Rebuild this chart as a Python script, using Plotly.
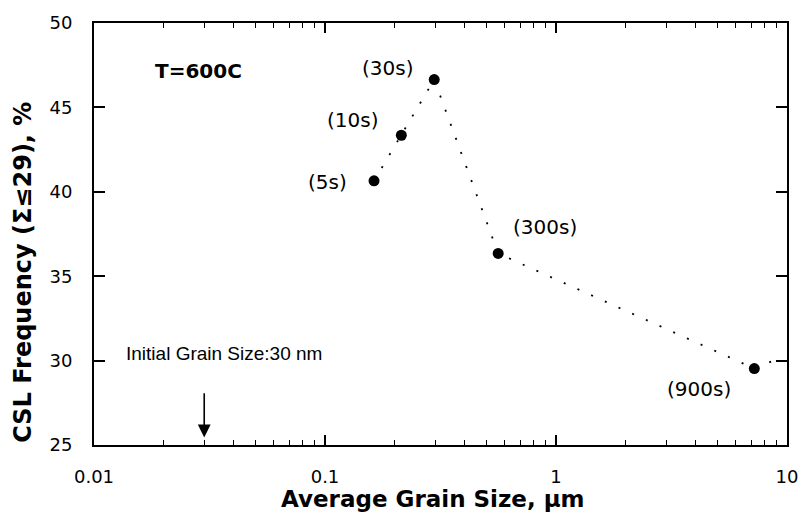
import math
import plotly.graph_objects as go

# Data
grain_size = [0.163, 0.214, 0.297, 0.562, 7.22]       # µm
csl_freq = [40.65, 43.35, 46.65, 36.35, 29.53]        # %
time_labels = ["(5s)", "(10s)", "(30s)", "(300s)", "(900s)"]

# dotted guide line continues slightly past the last point
curve_x = grain_size + [9.5]
curve_y = csl_freq + [30.2]

initial_size = 0.03  # µm
arrow_top, arrow_tip = 28.15, 25.45

# label offsets in pixels (right, down) from each point
label_dx = [-47, -49, -47, 47, -55]
label_dy = [1, -15, -12, -26, 20]

SANS = "DejaVu Sans, Verdana, sans-serif"
ARIAL = "Liberation Sans, Arial, Helvetica, sans-serif"

fig = go.Figure()
fig.add_trace(go.Scatter(
    x=curve_x, y=curve_y, mode="lines",
    line=dict(color="black", width=1.8, dash="2px,13px"),
    hoverinfo="skip", showlegend=False))
fig.add_trace(go.Scatter(
    x=grain_size, y=csl_freq, mode="markers",
    marker=dict(color="black", size=11),
    showlegend=False))

for x, y, t, dx, dy in zip(grain_size, csl_freq, time_labels, label_dx, label_dy):
    fig.add_annotation(x=math.log10(x), y=y, text=t, showarrow=False,
                       xanchor="center", yanchor="middle",
                       xshift=dx, yshift=-dy, font=dict(family=SANS, size=20, color="black"))

lx = math.log10(initial_size)
fig.add_annotation(x=lx, y=arrow_tip, ax=lx, ay=arrow_top,
                   xref="x", yref="y", axref="x", ayref="y", text="", showarrow=True,
                   arrowhead=2, arrowsize=1.6, arrowwidth=1.6, arrowcolor="black")
fig.add_annotation(xref="paper", yref="y", x=0.043, y=30.41, xanchor="left", yanchor="middle",
                   text="Initial Grain Size:30 nm", showarrow=False,
                   font=dict(family=ARIAL, size=19, color="black"))
fig.add_annotation(xref="paper", yref="y", x=0.151, y=47.18, xanchor="center", yanchor="middle",
                   text="<b>T=600C</b>", showarrow=False,
                   font=dict(family=SANS, size=20, color="black"))

# axis titles
fig.add_annotation(xref="paper", yref="paper", x=0.489, y=-0.129, xanchor="center", yanchor="middle",
                   text="<b>Average Grain Size, µm</b>",
                   showarrow=False, font=dict(family=SANS, size=23, color="black"))
fig.add_annotation(xref="paper", yref="paper", x=-0.1027, y=0.41, xanchor="center", yanchor="middle",
                   textangle=-90, text="<b>CSL Frequency (Σ≤29), %</b>",
                   showarrow=False, font=dict(family=SANS, size=24, color="black"))

fig.update_layout(
    width=810, height=516,
    margin=dict(l=94, r=15, t=20, b=71),
    paper_bgcolor="white", plot_bgcolor="white",
    font=dict(family=SANS, size=18, color="black"),
)
fig.update_xaxes(
    type="log", range=[-2, 1],
    tickvals=[0.01, 0.1, 1, 10], ticktext=["0.01", "0.1", "1", "10"],
    ticks="inside", ticklen=10, tickwidth=1.5, tickcolor="black",
    minor=dict(ticks="inside", ticklen=5, tickwidth=1.2, tickcolor="black",
               tickvals=[m * d for d in (0.01, 0.1, 1) for m in range(2, 10)]),
    showline=True, linewidth=2, linecolor="black", mirror="ticks",
    showgrid=False, zeroline=False,
    tickfont=dict(family=SANS, size=18), ticklabelstandoff=14,
)
fig.update_yaxes(
    range=[25, 50], tickvals=[25, 30, 35, 40, 45, 50],
    ticks="inside", ticklen=11, tickwidth=1.5, tickcolor="black",
    showline=True, linewidth=2, linecolor="black", mirror="ticks",
    showgrid=False, zeroline=False,
    tickfont=dict(family=SANS, size=18), ticklabelstandoff=16,
)

fig.write_html("out.html")
